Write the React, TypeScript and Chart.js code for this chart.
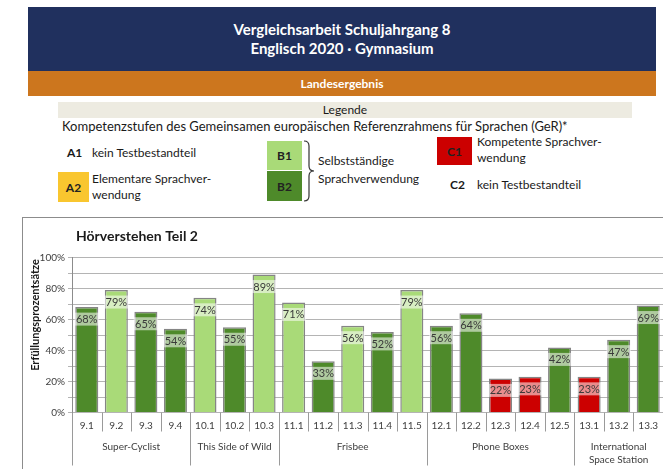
import React, { useEffect, useRef } from "react";
import { Chart, registerables } from "chart.js";

Chart.register(...registerables);

const categories = ["9.1", "9.2", "9.3", "9.4", "10.1", "10.2", "10.3", "11.1", "11.2", "11.3", "11.4", "11.5", "12.1", "12.2", "12.3", "12.4", "12.5", "13.1", "13.2", "13.3"];
const values = [68, 79, 65, 54, 74, 55, 89, 71, 33, 56, 52, 79, 56, 64, 22, 23, 42, 23, 47, 69];
const levels = ["B2", "B1", "B2", "B2", "B1", "B2", "B1", "B1", "B2", "B1", "B2", "B1", "B2", "B2", "C1", "C1", "B2", "C1", "B2", "B2"];
const groupNames = [["Super-Cyclist"], ["This Side of Wild"], ["Frisbee"], ["Phone Boxes"], ["International", "Space Station"]];
const groupSizes = [4, 3, 5, 5, 3];

const levelColors: Record<string, string> = {
  A2: "#F9C62F",
  B1: "#A9DA78",
  B2: "#4E8A2A",
  C1: "#CC0000",
};

const FONT = "Lato, 'Liberation Sans', sans-serif";

const overlayPlugin = {
  id: "overlay",
  afterDatasetsDraw(chart: any) {
    const ctx = chart.ctx;
    const xs = chart.scales.x;
    const ys = chart.scales.y;
    const area = chart.chartArea;
    const meta = chart.getDatasetMeta(0);
    ctx.save();
    // data labels
    ctx.font = `11px ${FONT}`;
    ctx.textAlign = "center";
    ctx.textBaseline = "middle";
    meta.data.forEach((el: any, i: number) => {
      const txt = values[i] + "%";
      const w = ctx.measureText(txt).width + 3;
      const cy = el.y + 12;
      ctx.fillStyle = "rgba(255,255,255,0.55)";
      ctx.fillRect(el.x - w / 2, cy - 6.5, w, 13);
      ctx.fillStyle = "#3a3a3a";
      ctx.fillText(txt, el.x, cy + 0.5);
    });
    // category separators and labels
    const n = categories.length;
    const step = (area.right - area.left) / n;
    const base = ys.getPixelForValue(0);
    ctx.strokeStyle = "#9a9a9a";
    ctx.lineWidth = 1;
    const groupStarts = new Set<number>();
    let acc = 0;
    groupSizes.forEach((s) => {
      groupStarts.add(acc);
      acc += s;
    });
    for (let i = 0; i < n; i++) {
      const bx = Math.round(area.left + i * step) + 0.5;
      ctx.beginPath();
      ctx.moveTo(bx, base);
      ctx.lineTo(bx, groupStarts.has(i) ? base + 53 : base + 19);
      ctx.stroke();
    }
    ctx.fillStyle = "#404040";
    ctx.font = `10px ${FONT}`;
    categories.forEach((c, i) => {
      ctx.fillText(c, xs.getPixelForValue(i), base + 13);
    });
    acc = 0;
    groupSizes.forEach((s, gi) => {
      const x0 = area.left + acc * step;
      const x1 = area.left + (acc + s) * step;
      const cx = (x0 + x1) / 2;
      const lines = groupNames[gi];
      lines.forEach((l, li) => {
        ctx.fillText(l, cx, base + 34 + li * 13);
      });
      acc += s;
    });
    // chart title
    ctx.textAlign = "left";
    ctx.fillStyle = "#1a1a1a";
    ctx.font = `bold 14px ${FONT}`;
    ctx.fillText("Hörverstehen Teil 2", 53, 18);
    // y axis title
    ctx.save();
    ctx.translate(12, 97);
    ctx.rotate(-Math.PI / 2);
    ctx.textAlign = "center";
    ctx.font = `bold 11px ${FONT}`;
    ctx.fillText("Erfüllungsprozentsätze", 0, 0);
    ctx.restore();
    ctx.restore();
  },
};

function ChartBox() {
  const ref = useRef<HTMLCanvasElement | null>(null);
  useEffect(() => {
    if (!ref.current) return;
    const chart = new Chart(ref.current, {
      type: "bar",
      data: {
        labels: categories,
        datasets: [
          {
            data: values,
            backgroundColor: levels.map((l) => levelColors[l]),
            borderColor: "#858585",
            borderWidth: 1.5,
            borderSkipped: "bottom",
            barPercentage: 0.78,
            categoryPercentage: 1,
          },
        ],
      },
      options: {
        animation: false,
        responsive: true,
        maintainAspectRatio: false,
        layout: { padding: { top: 39.5, bottom: 56.5, left: 0, right: 0 } },
        plugins: { legend: { display: false }, tooltip: { enabled: false }, title: { display: false } },
        scales: {
          x: {
            ticks: { display: false },
            grid: { display: false, drawTicks: false },
            border: { display: false },
            afterFit: (s: any) => {
              s.height = 0;
            },
          },
          y: {
            min: 0,
            max: 100,
            ticks: {
              stepSize: 10,
              padding: 3,
              color: "#404040",
              font: { size: 10, family: FONT },
              callback: (v: any) => (Number(v) % 20 === 0 ? v + "%" : ""),
            },
            grid: { color: "#b4b4b4", lineWidth: 1, tickLength: 4, drawTicks: true },
            border: { display: true, color: "#8c8c8c" },
            afterFit: (s: any) => {
              s.width = 49;
            },
          },
        },
      },
      plugins: [overlayPlugin],
    });
    return () => chart.destroy();
  }, []);
  return (
    <div style={{ position: "absolute", left: 22, top: 217, width: 641, height: 252, borderTop: "1px solid #8c8c8c", borderLeft: "1px solid #8c8c8c", boxSizing: "border-box" }}>
      <div style={{ position: "relative", width: 640, height: 251 }}>
        <canvas ref={ref} />
      </div>
    </div>
  );
}

const txt: React.CSSProperties = { position: "absolute", fontFamily: FONT, fontSize: 12, color: "#1a1a1a", whiteSpace: "nowrap", lineHeight: "15px" };

function Box({ x, y, w, h, bg, label }: { x: number; y: number; w: number; h: number; bg: string; label: string }) {
  return (
    <div style={{ position: "absolute", left: x, top: y, width: w, height: h, background: bg, display: "flex", alignItems: "center", justifyContent: "center", fontFamily: FONT, fontWeight: "bold", fontSize: 12, color: "#222" }}>
      {label}
    </div>
  );
}

export default function App() {
  return (
    <div style={{ position: "absolute", left: 0, top: 0, width: 663, height: 469, background: "#fff", overflow: "hidden" }}>
      <div style={{ position: "absolute", left: 28, top: 7, width: 628, height: 64, background: "#20305E", color: "#fff", fontFamily: FONT, fontWeight: "bold", fontSize: 15, textAlign: "center" }}>
        <div style={{ position: "absolute", left: 0, right: 0, top: 13, lineHeight: "19px" }}>Vergleichsarbeit Schuljahrgang 8</div>
        <div style={{ position: "absolute", left: 0, right: 0, top: 32, lineHeight: "19px" }}>Englisch 2020 · Gymnasium</div>
      </div>
      <div style={{ position: "absolute", left: 28, top: 71, width: 628, height: 25, background: "#CC761E", color: "#fff", fontFamily: FONT, fontWeight: "bold", fontSize: 12, textAlign: "center", lineHeight: "25px" }}>
        Landesergebnis
      </div>
      <div style={{ position: "absolute", left: 58, top: 102, width: 574, height: 16, background: "#EDEBE1", fontFamily: FONT, fontSize: 12, textAlign: "center", lineHeight: "16px", color: "#1a1a1a" }}>
        Legende
      </div>
      <div style={{ ...txt, left: 62, top: 119, fontSize: 13 }}>Kompetenzstufen des Gemeinsamen europäischen Referenzrahmens für Sprachen (GeR)*</div>

      <div style={{ ...txt, left: 67, top: 145, fontWeight: "bold" }}>A1</div>
      <div style={{ ...txt, left: 92, top: 145 }}>kein Testbestandteil</div>

      <Box x={58} y={172} w={31} h={30} bg={levelColors.A2} label="A2" />
      <div style={{ ...txt, left: 92, top: 171 }}>Elementare Sprachver-</div>
      <div style={{ ...txt, left: 92, top: 187 }}>wendung</div>

      <Box x={267} y={141} w={35} h={29} bg={levelColors.B1} label="B1" />
      <Box x={267} y={171} w={35} h={30} bg={levelColors.B2} label="B2" />
      <svg style={{ position: "absolute", left: 302, top: 140, width: 16, height: 62 }} viewBox="0 0 16 62">
        <path d="M2 1 Q7 1 7 6 L7 26 Q7 31 12 31 Q7 31 7 36 L7 56 Q7 61 2 61" fill="none" stroke="#333" strokeWidth="1.2" />
      </svg>
      <div style={{ ...txt, left: 318, top: 153 }}>Selbstständige</div>
      <div style={{ ...txt, left: 318, top: 171 }}>Sprachverwendung</div>

      <Box x={437} y={137} w={35} h={28} bg={levelColors.C1} label="C1" />
      <div style={{ ...txt, left: 477, top: 134 }}>Kompetente Sprachver-</div>
      <div style={{ ...txt, left: 477, top: 150 }}>wendung</div>
      <div style={{ ...txt, left: 450, top: 177, fontWeight: "bold" }}>C2</div>
      <div style={{ ...txt, left: 477, top: 177 }}>kein Testbestandteil</div>

      <ChartBox />
    </div>
  );
}
